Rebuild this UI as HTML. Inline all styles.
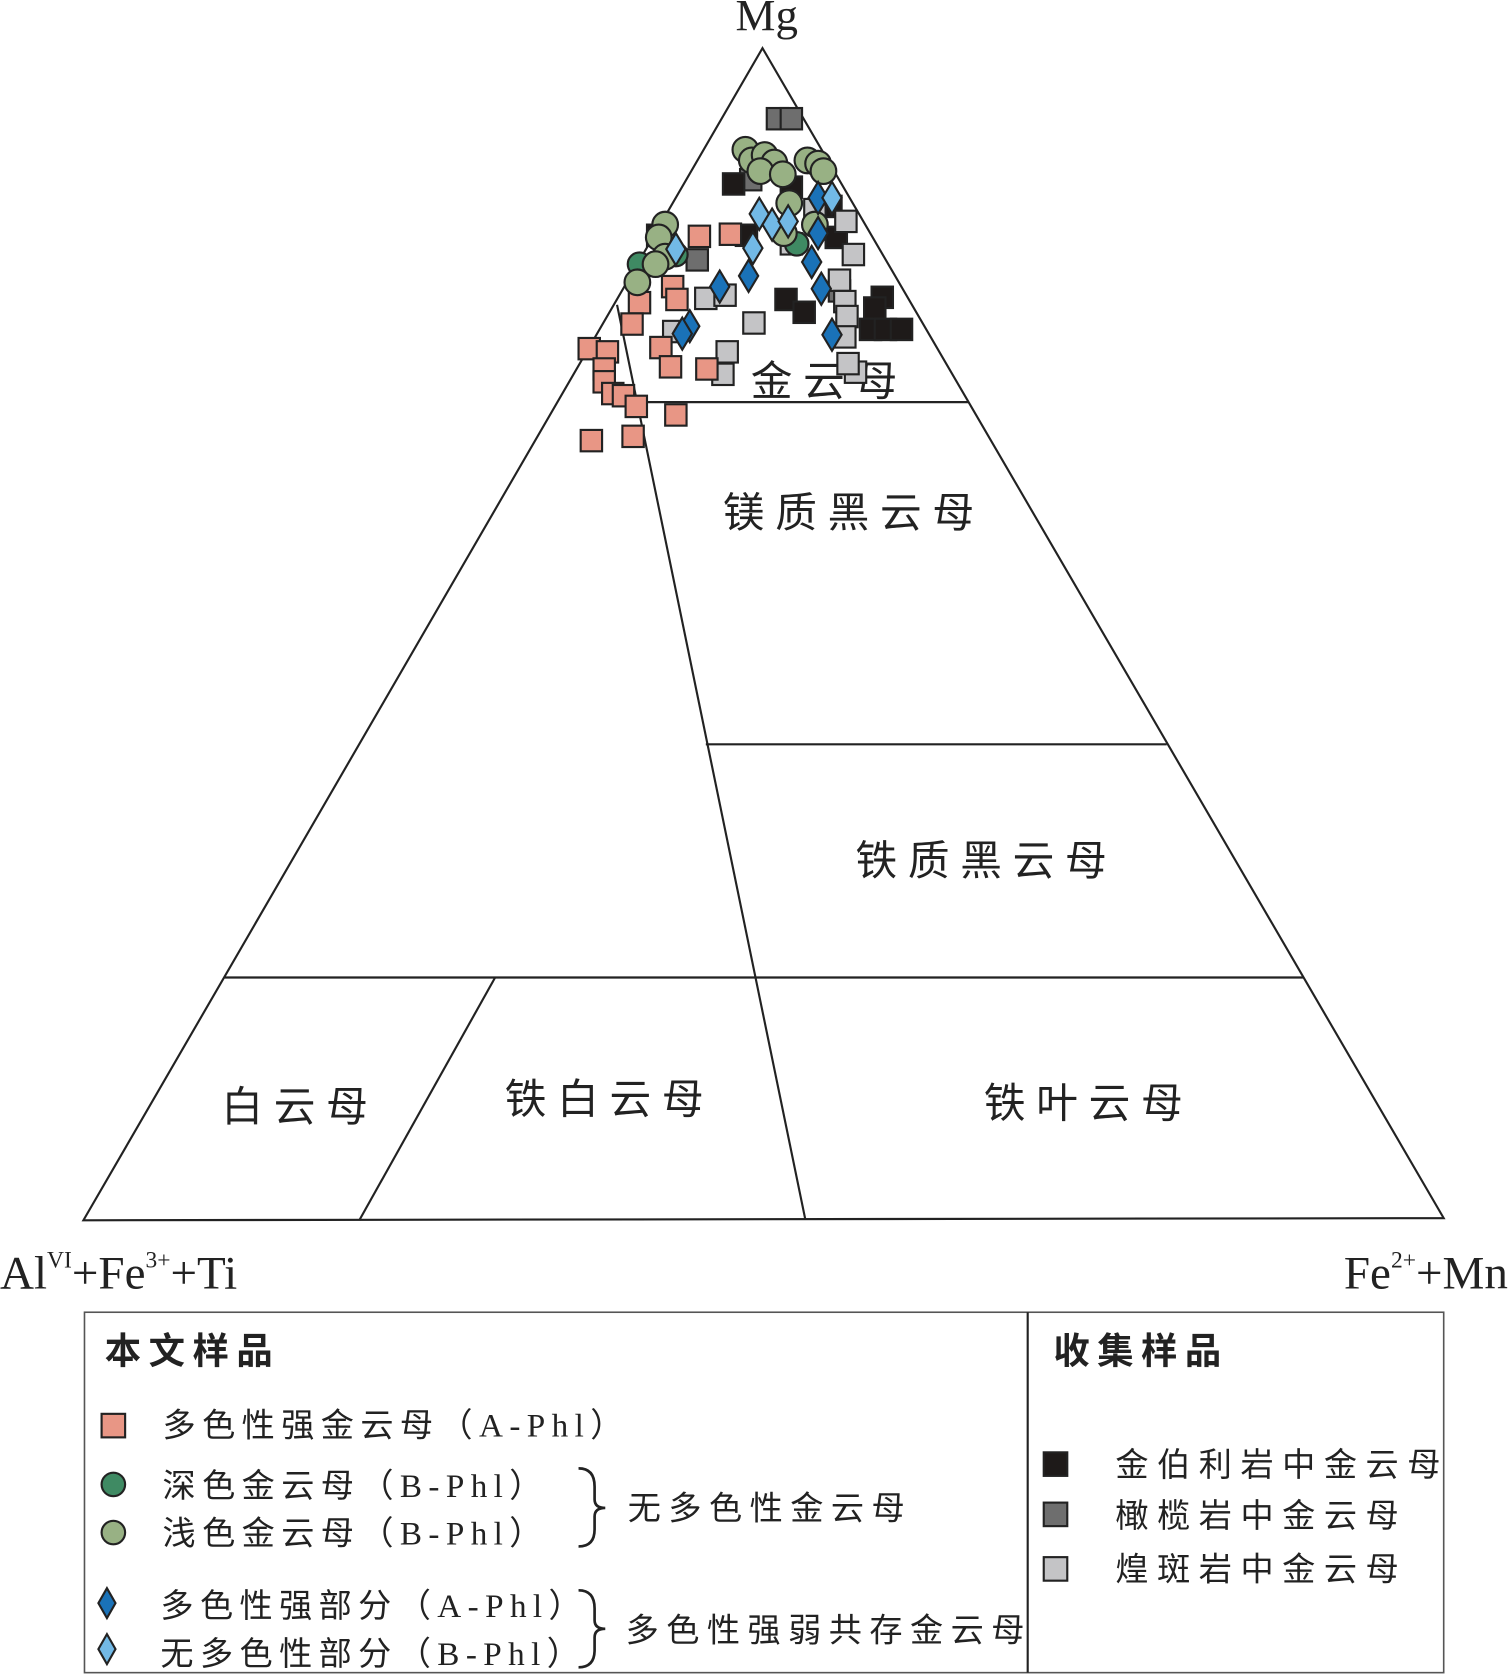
<!DOCTYPE html>
<html><head><meta charset="utf-8"><style>
html,body{margin:0;padding:0;background:#fff;}
svg{display:block;}
text{font-family:"Liberation Serif","Noto Serif CJK SC",serif;fill:#222;}
.cn{font-family:"Liberation Serif","Noto Sans CJK SC",sans-serif;}
</style></head><body>
<svg width="1510" height="1678" viewBox="0 0 1412 1569" preserveAspectRatio="none" xmlns="http://www.w3.org/2000/svg">
<g fill="none" stroke="#222" stroke-width="2">
<polygon points="713,45 78,1141 1350,1139"/>
<line x1="577" y1="285" x2="753" y2="1140"/>
<line x1="598" y1="376" x2="906" y2="376"/>
<line x1="660" y1="696" x2="1091" y2="696"/>
<line x1="210" y1="914" x2="1219" y2="914"/>
<line x1="463" y1="914" x2="336" y2="1141"/>
</g>
<text x="717" y="28" font-size="42" text-anchor="middle">Mg</text>
<g class="cn" font-size="39" letter-spacing="10">
<text x="702" y="370" class="cn">金云母</text>
<text x="676" y="493" class="cn">镁质黑云母</text>
<text x="800" y="818" class="cn">铁质黑云母</text>
<text x="207" y="1048" class="cn">白云母</text>
<text x="472" y="1041" class="cn">铁白云母</text>
<text x="920" y="1045" class="cn">铁叶云母</text>
</g>
<text x="0" y="1205" font-size="44">Al<tspan font-size="22" dy="-20">VI</tspan><tspan dy="20">+Fe</tspan><tspan font-size="22" dy="-20">3+</tspan><tspan dy="20">+Ti</tspan></text>
<text x="1410" y="1205" font-size="44" text-anchor="end">Fe<tspan font-size="22" dy="-20">2+</tspan><tspan dy="20">+Mn</tspan></text>

<g stroke="#222" stroke-width="2">
<g fill="#6e6e6e">
<rect x="717" y="101" width="20" height="20"/><rect x="730" y="101" width="20" height="20"/>
<rect x="692" y="158" width="20" height="20"/><rect x="642" y="233" width="20" height="20"/>
<rect x="775" y="262" width="20" height="20"/>
</g>
<g fill="#1e1a19">
<rect x="676" y="162" width="20" height="20"/><rect x="730" y="165" width="20" height="20"/>
<rect x="767" y="183" width="20" height="20"/><rect x="725" y="270" width="20" height="20"/>
<rect x="742" y="282" width="20" height="20"/><rect x="815" y="268" width="20" height="20"/>
<rect x="808" y="278" width="20" height="20"/><rect x="804" y="298" width="20" height="20"/>
<rect x="818" y="298" width="20" height="20"/><rect x="833" y="298" width="20" height="20"/>
<rect x="688" y="210" width="20" height="20"/><rect x="605" y="210" width="20" height="20"/>
<rect x="772" y="212" width="20" height="20"/>
</g>
<g fill="#c4c4c6">
<rect x="781" y="197" width="20" height="20"/><rect x="788" y="228" width="20" height="20"/>
<rect x="775" y="252" width="20" height="20"/><rect x="780" y="272" width="20" height="20"/>
<rect x="782" y="286" width="20" height="20"/><rect x="650" y="269" width="20" height="20"/>
<rect x="668" y="266" width="20" height="20"/><rect x="695" y="292" width="20" height="20"/>
<rect x="670" y="319" width="20" height="20"/><rect x="666" y="340" width="20" height="20"/>
<rect x="620" y="300" width="20" height="20"/><rect x="730" y="218" width="20" height="20"/>
<rect x="752" y="186" width="20" height="20"/><rect x="790" y="338" width="20" height="20"/>
<rect x="783" y="330" width="20" height="20"/><rect x="780" y="305" width="20" height="20"/>
</g>
<g fill="#e89685">
<rect x="644" y="211" width="20" height="20"/><rect x="673" y="209" width="20" height="20"/>
<rect x="588" y="273" width="20" height="20"/><rect x="581" y="293" width="20" height="20"/>
<rect x="619" y="258" width="20" height="20"/><rect x="623" y="270" width="20" height="20"/>
<rect x="608" y="315" width="20" height="20"/><rect x="617" y="333" width="20" height="20"/>
<rect x="651" y="335" width="20" height="20"/><rect x="541" y="316" width="20" height="20"/>
<rect x="558" y="319" width="20" height="20"/><rect x="555" y="335" width="20" height="20"/>
<rect x="555" y="347" width="20" height="20"/><rect x="563" y="358" width="20" height="20"/>
<rect x="573" y="360" width="20" height="20"/><rect x="585" y="370" width="20" height="20"/>
<rect x="622" y="378" width="20" height="20"/><rect x="543" y="402" width="20" height="20"/>
<rect x="582" y="398" width="20" height="20"/>
</g>
<g fill="#3f8a63">
<circle cx="598" cy="247" r="11"/><circle cx="632" cy="238" r="11"/><circle cx="745" cy="228" r="11"/>
</g>
<g fill="#98b184">
<circle cx="697" cy="140" r="12"/><circle cx="703" cy="150" r="12"/><circle cx="715" cy="145" r="12"/>
<circle cx="724" cy="152" r="12"/><circle cx="711" cy="160" r="12"/><circle cx="732" cy="163" r="12"/>
<circle cx="755" cy="150" r="12"/><circle cx="765" cy="153" r="12"/><circle cx="770" cy="160" r="12"/>
<circle cx="738" cy="190" r="12"/><circle cx="762" cy="210" r="12"/><circle cx="622" cy="210" r="12"/>
<circle cx="616" cy="222" r="12"/><circle cx="622" cy="240" r="12"/><circle cx="613" cy="247" r="12"/>
<circle cx="596" cy="264" r="12"/><circle cx="733" cy="218" r="12"/>
</g>
<g fill="#1a72b8">
<polygon points="765,170 774,185 765,200 756,185"/><polygon points="765,203 774,218 765,233 756,218"/>
<polygon points="759,230 768,245 759,260 750,245"/><polygon points="768,255 777,270 768,285 759,270"/>
<polygon points="778,298 787,313 778,328 769,313"/><polygon points="673,253 682,268 673,283 664,268"/>
<polygon points="700,243 709,258 700,273 691,258"/><polygon points="645,290 654,305 645,320 636,305"/>
<polygon points="638,297 647,312 638,327 629,312"/>
</g>
<g fill="#72b9e6">
<polygon points="710,185 719,200 710,215 701,200"/><polygon points="722,195 731,210 722,225 713,210"/>
<polygon points="737,192 746,207 737,222 728,207"/><polygon points="778,170 787,185 778,200 769,185"/>
<polygon points="704,217 713,232 704,247 695,232"/><polygon points="632,218 641,233 632,248 623,233"/>
</g>
</g>

<rect x="79" y="1227" width="1271" height="337" fill="none" stroke="#555" stroke-width="1.5"/>
<line x1="961" y1="1227" x2="961" y2="1564" stroke="#222" stroke-width="2"/>
<g class="cn" font-size="34">
<text x="98" y="1275" class="cn" letter-spacing="7" font-weight="bold">本文样品</text>
<text x="985" y="1275" class="cn" letter-spacing="7" font-weight="bold">收集样品</text>
</g>
<g class="cn" font-size="31" letter-spacing="6">
<text x="152" y="1343" class="cn">多色性强金云母（A-Phl）</text>
<text x="152" y="1400" class="cn">深色金云母（B-Phl）</text>
<text x="152" y="1444" class="cn">浅色金云母（B-Phl）</text>
<text x="587" y="1421" class="cn" letter-spacing="7">无多色性金云母</text>
<text x="150" y="1512" class="cn">多色性强部分（A-Phl）</text>
<text x="150" y="1557" class="cn">无多色性部分（B-Phl）</text>
<text x="585" y="1535" class="cn" letter-spacing="7">多色性强弱共存金云母</text>
<text x="1043" y="1380" class="cn" letter-spacing="8">金伯利岩中金云母</text>
<text x="1043" y="1428" class="cn" letter-spacing="8">橄榄岩中金云母</text>
<text x="1043" y="1478" class="cn" letter-spacing="8">煌斑岩中金云母</text>
</g>
<g stroke="#222" stroke-width="2">
<rect x="95" y="1322" width="22" height="22" fill="#e89685"/>
<circle cx="106" cy="1388" r="11" fill="#3f8a63"/>
<circle cx="106" cy="1433" r="11" fill="#98b184"/>
<polygon points="100,1485 108,1499 100,1513 92,1499" fill="#1a72b8"/>
<polygon points="100,1528 108,1542 100,1556 92,1542" fill="#72b9e6"/>
<rect x="976" y="1358" width="22" height="22" fill="#1e1a19"/>
<rect x="976" y="1405" width="22" height="22" fill="#6e6e6e"/>
<rect x="976" y="1456" width="22" height="22" fill="#c4c4c6"/>
</g>
<g fill="none" stroke="#222" stroke-width="2.5">
<path d="M541,1373 Q556,1373 556,1390 L556,1402 Q556,1410 566,1410 Q556,1410 556,1418 L556,1430 Q556,1446 541,1446"/>
<path d="M541,1487 Q556,1487 556,1504 L556,1515 Q556,1523 566,1523 Q556,1523 556,1531 L556,1543 Q556,1559 541,1559"/>
</g>
</svg>
</body></html>
